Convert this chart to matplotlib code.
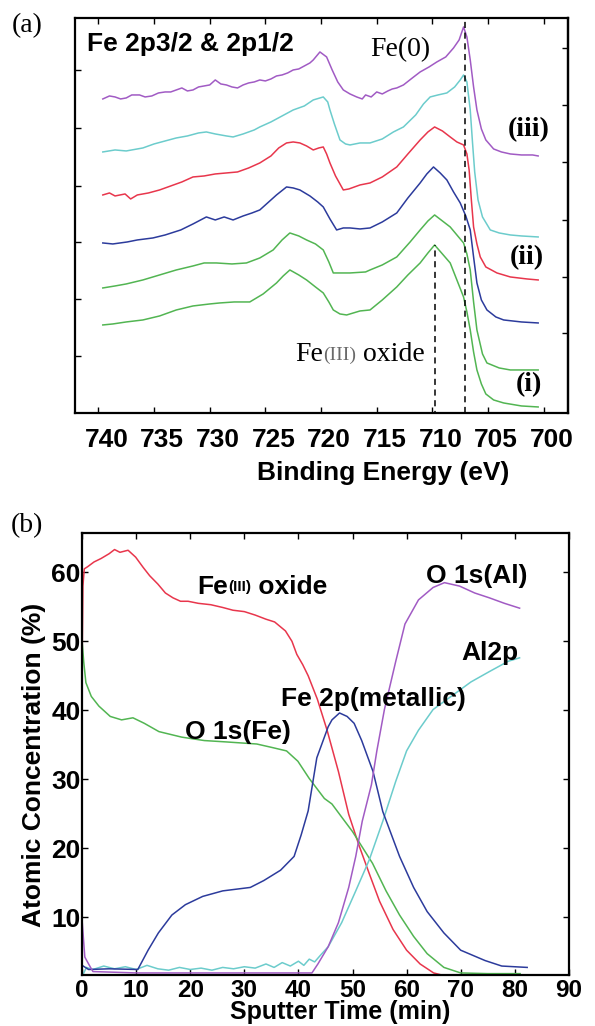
import matplotlib
matplotlib.use("Agg")
import matplotlib.pyplot as plt
import matplotlib.transforms as mtransforms

# ---- panel (a): Fe 2p spectra (binding energy in eV, intensity in arbitrary units, stacked) ----
purple_e = [739.6, 739.0, 738.5, 738.0, 737.5, 737.0, 736.3, 735.8, 735.2, 734.6,
            734.0, 733.5, 733.0, 732.5, 732.0, 731.5, 731.0, 730.5, 730.0, 729.5,
            729.0, 728.5, 728.0, 727.5, 727.0, 726.5, 726.0, 725.5, 725.0, 724.5,
            724.0, 723.5, 723.0, 722.5, 722.0, 721.5, 721.0, 720.7, 720.1, 719.5,
            719.0, 718.5, 718.0, 717.4, 716.8, 716.3, 716.0, 715.5, 715.0, 714.5,
            714.0, 713.6, 713.2, 712.6, 711.8, 711.1, 710.3, 709.6, 708.8, 708.1,
            707.6, 707.2, 706.9, 706.6, 706.3, 706.0, 705.6, 705.2, 704.5, 703.8,
            703.0, 702.0, 701.0, 700.5]
purple_i = [313, 316, 315, 313, 314, 317, 317, 315, 316, 319,
            320, 320, 322, 324, 321, 322, 325, 326, 327, 332,
            328, 327, 325, 324, 327, 329, 330, 332, 331, 333,
            336, 337, 339, 342, 343, 346, 349, 352, 360, 355,
            342, 330, 322, 318, 315, 313, 317, 315, 320, 318,
            321, 323, 324, 327, 334, 340, 345, 350, 355, 364,
            372, 385, 375, 352, 325, 302, 283, 272, 263, 260,
            258, 257, 257, 256]

cyan_e = [739.6, 738.5, 737.5, 736.0, 735.0, 734.0, 733.0, 732.0, 731.0, 730.3, 729.5, 728.5,
          727.9, 727.0, 726.0, 725.5, 724.5, 723.5, 722.5, 721.5, 720.7, 719.8, 719.4, 719.2,
          718.8, 718.3, 717.8, 717.4, 716.5, 715.6, 714.5, 713.5, 712.6, 711.5, 710.8, 710.2,
          709.5, 708.7, 708.0, 707.5, 707.2, 706.9, 706.6, 706.4, 706.2, 705.9, 705.5, 704.8,
          704.0, 703.0, 702.0, 700.5]
cyan_i = [260, 262, 261, 264, 268, 271, 274, 276, 279, 280, 278, 276,
          275, 278, 282, 285, 290, 296, 302, 306, 312, 315, 310, 302,
          288, 272, 268, 267, 269, 269, 273, 280, 285, 297, 308, 315,
          317, 319, 325, 332, 337, 330, 302, 270, 240, 212, 195, 182,
          179, 177, 176, 175]

red_e = [739.6, 739.0, 738.5, 737.6, 737.1, 736.5, 735.5, 734.5, 733.5, 732.5, 731.5, 730.5,
         729.5, 728.5, 727.5, 726.5, 725.5, 724.5, 723.8, 723.1, 722.5, 721.9, 721.3, 720.7,
         720.2, 719.8, 719.5, 719.2, 718.7, 718.0, 717.5, 716.5, 715.6, 714.5, 713.2, 712.2,
         711.1, 710.4, 709.8, 709.1, 708.4, 707.8, 707.2, 706.9, 706.7, 706.5, 706.3, 706.0,
         705.7, 705.2, 704.2, 703.0, 701.5, 700.5]
red_i = [217, 219, 216, 218, 213, 217, 219, 222, 226, 230, 235, 236,
         238, 239, 240, 244, 249, 256, 264, 269, 270, 269, 266, 262,
         264, 265, 258, 249, 236, 222, 223, 227, 229, 235, 245, 258,
         272, 280, 285, 281, 275, 270, 267, 258, 242, 212, 185, 168,
         155, 145, 139, 135, 133, 132]

blue_e = [739.6, 738.7, 737.4, 736.5, 735.1, 734.0, 732.6, 731.5, 730.3, 729.5, 728.7, 727.9,
          727.0, 726.2, 725.5, 724.8, 724.0, 723.1, 722.5, 721.9, 721.0, 720.3, 719.8, 719.2,
          718.6, 718.0, 717.4, 716.5, 715.6, 714.5, 713.2, 712.2, 711.1, 710.5, 709.9, 709.3,
          708.7, 708.1, 707.5, 707.0, 706.6, 706.3, 706.0, 705.6, 705.1, 704.3, 703.6, 702.0,
          700.5]
blue_i = [169, 168, 170, 172, 174, 177, 182, 188, 195, 192, 195, 192,
          196, 199, 202, 209, 217, 225, 224, 222, 216, 210, 205, 193,
          182, 184, 184, 183, 184, 190, 199, 214, 229, 238, 245, 239,
          232, 220, 209, 196, 182, 155, 129, 112, 102, 95, 92, 90,
          89]

green1_e = [739.6, 738.5, 737.5, 736.0, 734.5, 733.0, 731.5, 730.5, 729.4, 728.0, 726.7, 725.5,
            724.3, 723.5, 722.8, 722.0, 721.3, 720.5, 719.8, 719.3, 718.9, 718.0, 717.4, 716.0,
            715.6, 714.5, 713.2, 712.0, 711.1, 710.4, 709.8, 709.1, 708.4, 707.8, 707.2, 706.9,
            706.6, 706.3, 706.0, 705.5, 705.1, 704.0, 703.0, 701.5, 700.5]
green1_i = [124, 126, 128, 132, 137, 142, 146, 149, 149, 148, 149, 154,
            162, 172, 179, 176, 172, 168, 162, 150, 139, 139, 139, 140,
            142, 147, 155, 170, 182, 191, 197, 191, 185, 177, 169, 158,
            142, 110, 82, 58, 49, 44, 42, 42, 42]

green2_e = [739.6, 738.7, 737.5, 736.0, 734.5, 733.0, 731.5, 730.0, 729.1, 727.8, 726.4, 725.2,
            724.0, 723.4, 722.8, 722.0, 721.3, 720.5, 719.8, 719.3, 718.9, 718.3, 717.7, 716.5,
            715.6, 714.5, 713.2, 712.2, 711.1, 710.4, 709.8, 709.1, 708.4, 707.8, 707.2, 706.9,
            706.6, 706.3, 706.0, 705.6, 705.2, 704.5, 703.6, 702.0, 700.5]
green2_i = [87, 88, 90, 92, 96, 102, 106, 108, 109, 110, 110, 118,
            129, 136, 142, 137, 132, 125, 119, 110, 102, 98, 97, 101,
            102, 112, 125, 137, 149, 159, 167, 158, 149, 132, 115, 100,
            82, 60, 42, 28, 18, 12, 9, 6, 5]

fe0_energy = 707.1
fe3_energy = 709.8
fe3_line_top = 167

energy_ticks = [740, 735, 730, 725, 720, 715, 710, 705, 700]
left_ticks_a = [56, 113, 170, 226, 284, 342]
right_ticks_a = [79, 135, 192, 250, 307, 364]

# ---- panel (b): depth profile (sputter time in min, atomic concentration in %) ----
red_t = [0, 0.15, 0.4, 1, 2.2, 3.5, 5, 6, 7, 8.5, 9.9, 11.3, 12.5, 14, 15.4, 16.8, 18.2, 19.6,
         21.5, 23.8, 26, 27.9, 30, 32, 34, 35.6, 37.6, 38.8, 39.7, 40.8, 41.8, 43.5, 45.3,
         47.4, 49.3, 51.2, 53.1, 55, 57.5, 60, 62.5, 65, 67, 70, 75, 81]
red_c = [47, 58, 60.5, 60.8, 61.5, 62.0, 62.7, 63.3, 62.9, 63.2, 62.2, 60.7, 59.5, 58.3, 57.0,
         56.3, 55.8, 55.8, 55.5, 55.3, 54.9, 54.5, 54.3, 53.8, 53.2, 52.8, 51.5, 50.0, 48.1,
         46.6, 45.0, 41.6, 37.1, 31.1, 24.9, 20.4, 16.3, 12.3, 8.2, 5.2, 3.2, 1.9, 1.5, 1.4,
         1.4, 1.4]

green_t = [0, 0.3, 0.7, 1.7, 3.1, 5.2, 7.3, 9.4, 11.5, 14.2, 18.4, 22.6, 26.7, 32.3, 35.1, 37.8,
           39.9, 42, 44.8, 46.2, 48, 50, 51.2, 53.7, 56.2, 58.7, 61.3, 63.8, 66.9, 70, 75, 81]
green_c = [50, 47, 44, 42, 40.6, 39.1, 38.6, 38.9, 38.1, 36.9, 36.1, 35.6, 35.4, 35.1, 34.6, 34.1,
           32.6, 30.1, 27.2, 26.4, 24.5, 22.4, 20.9, 17.8, 13.8, 10.3, 7.2, 4.7, 2.7, 1.9, 1.8, 1.8]

blue_t = [0, 1.2, 5, 10.3, 12.2, 14.1, 16.6, 19.1, 22.3, 26, 31.1, 33.6, 36.7, 39.2, 40.5, 41.8,
          43.4, 45.5, 46.2, 47.6, 49, 50.3, 51.7, 53.8, 55.6, 58.7, 61.3, 63.8, 66.9, 70, 74.5,
          77.6, 82.3]
blue_c = [3.0, 2.4, 2.5, 2.4, 5.2, 7.7, 10.3, 11.8, 13.0, 13.8, 14.3, 15.3, 16.8, 18.8, 21.9, 25.4,
          33.1, 37.6, 38.6, 39.6, 39.1, 38.1, 35.6, 31.1, 25.3, 18.8, 14.3, 10.8, 7.7, 5.2, 3.7,
          2.9, 2.7]

purple_t = [0, 0.5, 1.2, 2, 10, 20, 30, 42.5, 43.6, 45.5, 47.4, 49.3, 50.6, 51.8, 53.5, 54.5,
            55.9, 58, 59.7, 62.2, 64.9, 67, 69.8, 72.6, 75.3, 78.1, 80.9]
purple_c = [9.5, 4.2, 3.2, 2.1, 1.9, 1.9, 1.9, 1.9, 3.2, 5.7, 9.2, 14.3, 18.8, 23.9, 29.2, 34.1,
            40.1, 47.1, 52.5, 56.0, 57.8, 58.5, 58.0, 57.0, 56.3, 55.5, 54.8]

cyan_t = [0, 0.8, 2, 4, 6, 8, 10, 12, 14, 16, 18, 20, 22, 24, 26, 28, 30, 32, 34, 35.5, 37, 38.5,
          40, 41, 42, 43, 44, 45.5, 48, 50.6, 53.1, 55.6, 58, 60, 62.2, 64.9, 68.4, 71.9, 75.3,
          78.8, 80.9]
cyan_c = [1.4, 2.7, 2.4, 2.9, 2.5, 2.8, 2.4, 3.0, 2.5, 2.3, 2.7, 2.4, 2.6, 2.3, 2.7, 2.5, 2.8,
          2.6, 3.2, 2.7, 3.4, 2.9, 3.6, 3.0, 3.9, 3.5, 4.4, 5.7, 9.2, 13.8, 18.3, 23.9, 29.7, 34.1,
          37.1, 40.1, 42.1, 44.1, 45.6, 47.1, 47.6]

time_ticks = [0, 10, 20, 30, 40, 50, 60, 70, 80, 90]
conc_ticks = [10, 20, 30, 40, 50, 60]

PURPLE = '#a15bc4'
CYAN = '#6ccccc'
RED = '#e8364c'
BLUE = '#2c3b9c'
GREEN = '#52b552'

SANS = 'Liberation Sans'
SERIF = 'Liberation Serif'


def style_axes(ax, size=19):
    for sp in ax.spines.values():
        sp.set_linewidth(1.6)
    ax.tick_params(direction='in', length=4, width=1, top=True, right=True,
                   labelsize=size)
    for lab in ax.get_xticklabels() + ax.get_yticklabels():
        lab.set_fontfamily(SANS)
        lab.set_fontweight('bold')


def draw_spectra(fig, ax):
    lw = 1.1
    ax.plot(purple_e, purple_i, color=PURPLE, lw=lw)
    ax.plot(cyan_e, cyan_i, color=CYAN, lw=lw)
    ax.plot(red_e, red_i, color=RED, lw=lw)
    ax.plot(blue_e, blue_i, color=BLUE, lw=lw)
    ax.plot(green1_e, green1_i, color=GREEN, lw=lw)
    ax.plot(green2_e, green2_i, color=GREEN, lw=lw)

    ax.axvline(fe0_energy, color='black', ls=(0, (4, 3)), lw=1.1)
    ax.vlines(fe3_energy, -5, fe3_line_top, color='black', linestyles=(0, (4, 3)), lw=1.1)

    ax.set_xlim(742.1, 697.8)
    ax.set_ylim(-1, 394)
    ax.set_xticks(energy_ticks)
    ax.set_yticks(left_ticks_a)
    ax.set_yticklabels([])
    style_axes(ax)
    ax.tick_params(axis='y', right=False)
    ax.tick_params(axis='x', pad=11)
    sec = ax.secondary_yaxis('right')
    sec.set_yticks(right_ticks_a)
    sec.set_yticklabels([])
    sec.tick_params(direction='in', length=4, width=1)
    sec.spines['right'].set_linewidth(1.6)

    shift = mtransforms.ScaledTranslation(8 / 100, 0, fig.dpi_scale_trans)
    for lab in ax.get_xticklabels():
        lab.set_transform(lab.get_transform() + shift)

    ax.set_xlabel('Binding Energy (eV)', fontsize=19, fontweight='bold', family=SANS)
    ax.xaxis.set_label_coords(0.625, -0.122)

    ax.text(741.0, 368, 'Fe 2p3/2 & 2p1/2', fontsize=19, fontweight='bold', family=SANS,
            ha='left', va='center')
    ax.text(712.9, 362, 'Fe(0)', fontsize=20, family=SERIF, ha='center', va='center')
    ax.text(701.35, 282, '(iii)', fontsize=20, fontweight='bold', family=SERIF,
            ha='center', va='center')
    ax.text(701.5, 154, '(ii)', fontsize=20, fontweight='bold', family=SERIF,
            ha='center', va='center')
    ax.text(701.35, 27, '(i)', fontsize=20, fontweight='bold', family=SERIF,
            ha='center', va='center')

    t1 = ax.text(722.3, 57, 'Fe', fontsize=20, family=SERIF, ha='left', va='center')
    t2 = ax.annotate('(III)', xy=(1, 0.5), xycoords=t1, fontsize=14, family=SERIF,
                     color='#6a6a6a', ha='left', va='center')
    ax.annotate(' oxide', xy=(1, 0.5), xycoords=t2, fontsize=20, family=SERIF,
                ha='left', va='center')


def draw_profile(ax):
    lw = 1.1
    ax.plot(red_t, red_c, color=RED, lw=lw)
    ax.plot(green_t, green_c, color=GREEN, lw=lw)
    ax.plot(cyan_t, cyan_c, color=CYAN, lw=lw)
    ax.plot(blue_t, blue_c, color=BLUE, lw=lw)
    ax.plot(purple_t, purple_c, color=PURPLE, lw=lw)

    ax.set_xlim(0, 90)
    ax.set_ylim(1.6, 65.7)
    ax.set_xticks(time_ticks)
    ax.set_yticks(conc_ticks)
    style_axes(ax)
    ax.tick_params(axis='x', pad=3, labelsize=17.5)
    ax.tick_params(axis='y', pad=1)
    ax.set_xlabel('Sputter Time (min)', fontsize=18, fontweight='bold', family=SANS)
    ax.xaxis.set_label_coords(0.53, -0.0565)

    kw = dict(fontsize=19, fontweight='bold', family=SANS, ha='left', va='center')
    t1 = ax.text(21.3, 57.8, 'Fe', **kw)
    t2 = ax.annotate('(III)', xy=(1, 0.5), xycoords=t1, fontsize=11, fontweight='bold',
                     family=SANS, ha='left', va='center')
    ax.annotate(' oxide', xy=(1, 0.5), xycoords=t2, **kw)
    ax.text(63.5, 59.5, 'O 1s(Al)', **kw)
    ax.text(70.1, 48.3, 'Al2p', **kw)
    ax.text(36.8, 41.6, 'Fe 2p(metallic)', **kw)
    ax.text(19.1, 36.9, 'O 1s(Fe)', **kw)


def make_figure():
    fig = plt.figure(figsize=(5.95, 10.26), dpi=100)
    ax_a = fig.add_axes([0.126, 0.5975, 0.829, 0.385])
    ax_b = fig.add_axes([0.138, 0.0497, 0.818, 0.4308])

    draw_spectra(fig, ax_a)
    draw_profile(ax_b)

    fig.text(27 / 595, 1 - 526 / 1026, '(b)', fontsize=20, family=SERIF, ha='center', va='center')
    fig.text(27 / 595, 1 - 26 / 1026, '(a)', fontsize=20, family=SERIF, ha='center', va='center')
    fig.text(34 / 595, 1 - 765 / 1026, 'Atomic Concentration (%)', fontsize=19,
             fontweight='bold', family=SANS, rotation=90, ha='center', va='center')

    fig.savefig('out.png', dpi=100)


if __name__ == "__main__":
    make_figure()
